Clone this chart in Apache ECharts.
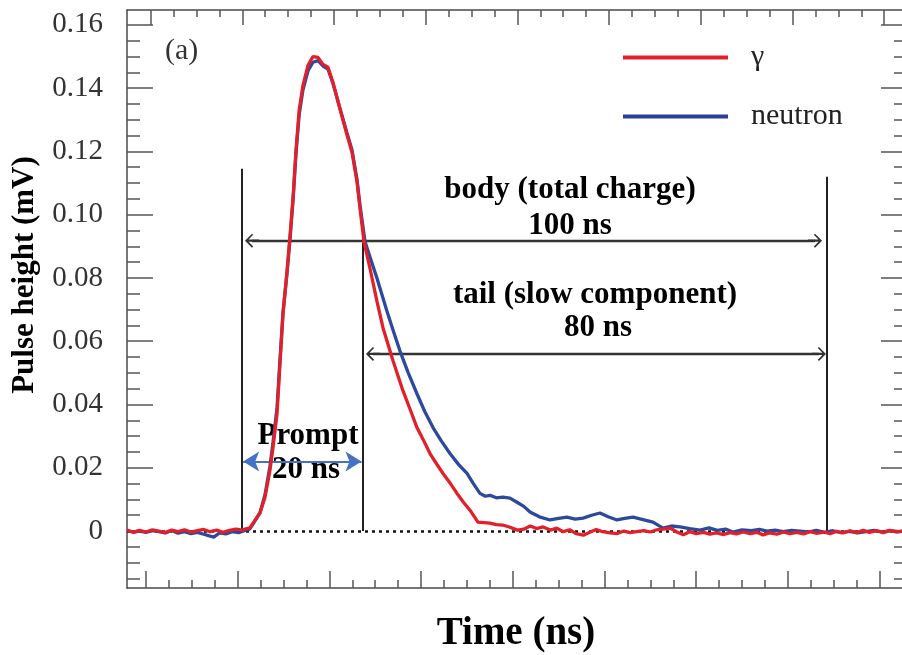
<!DOCTYPE html>
<html>
<head>
<meta charset="utf-8">
<script src="https://cdn.jsdelivr.net/npm/echarts@6/dist/echarts.min.js"></script>
<style>html,body{margin:0;padding:0;background:#fff}#c{width:902px;height:655px}</style>
</head>
<body>
<div id="c"></div>
<script>
// ---- data (x in axis units: one major tick = 10 units) ----
const gammaX = [-2.07,-1.4,-0.7,0,0.7,1.4,2.1,2.8,3.5,4.2,4.9,5.6,6.3,7.0,7.7,8.4,9.1,9.8,10.5,11.0,11.34,
  11.67,12.43,12.98,13.52,13.85,14.29,14.61,14.94,15.38,15.70,16.05,16.35,16.7,17.12,17.67,18.21,18.76,19.30,19.85,20.39,21.16,21.92,22.46,23.01,23.34,23.77,
  24.43,25.19,25.85,26.94,28.03,28.8,29.55,30.3,30.97,31.7,32.39,33.2,33.92,34.6,35.33,36.20,
  37.5,38.2,38.9,39.7,40.5,41.2,41.9,42.6,43.3,44.1,44.8,45.5,46.2,46.9,47.7,48.4,49.1,49.8,50.6,51.4,52.1,52.8,53.5,54.3,55.0,55.7,56.4,57.2,57.9,58.6,59.3,60.0,60.8,61.5,62.2,63.0,63.7,64.4,65.1,65.9,66.6,67.3,68.0,68.8,69.5,70.2,71.0,71.7,72.4,73.1,73.9,74.6,75.3,76.0,76.8,77.5,78.2,78.9,79.7,80.4,81.1,81.8,82.77];
const gammaY = [0.0003,-0.0004,0.0002,-0.0003,0.0004,0.0000,-0.0005,0.0003,-0.0002,0.0004,-0.0003,0.0001,0.0005,-0.0002,0.0003,-0.0004,0.0002,0.0006,0.0003,0.0008,0.0010,
  0.0025,0.0057,0.0107,0.0192,0.0264,0.0371,0.0528,0.0686,0.0821,0.0931,0.1060,0.1200,0.1330,0.1409,0.1472,0.1500,0.1497,0.1475,0.1466,0.1418,0.1334,0.1252,0.1198,0.1104,0.1019,0.0915,
  0.0830,0.0726,0.0642,0.0538,0.0443,0.0385,0.0327,0.0285,0.0245,0.0212,0.0182,0.0150,0.0119,0.0092,0.0066,0.0028,
  0.0025,0.0020,0.0019,0.0012,0.0003,0.0006,0.0016,0.0008,0.0013,0.0003,0.0009,-0.0002,0.0004,-0.0008,-0.0013,-0.0004,0.0005,-0.0002,-0.0006,-0.0008,0.0000,-0.0005,-0.0002,0.0001,-0.0003,0.0004,0.0006,0.0009,-0.0003,-0.0012,-0.0002,-0.0008,-0.0004,-0.0010,-0.0006,-0.0011,-0.0005,-0.0009,-0.0003,-0.0008,-0.0004,-0.0012,-0.0006,-0.0010,-0.0003,-0.0008,-0.0004,-0.0009,-0.0002,-0.0007,-0.0003,-0.0008,-0.0001,-0.0006,0.0001,-0.0005,0.0002,-0.0004,0.0001,-0.0005,0.0002,-0.0003,0.0001];

const neutronX = [-2.07,-1.4,-0.7,0,0.7,1.4,2.1,2.8,3.5,4.2,4.9,5.6,6.3,7.0,7.4,8.0,8.7,9.4,10.1,10.8,11.3,
  11.67,12.43,12.98,13.52,13.85,14.29,14.61,14.94,15.38,15.70,16.05,16.35,16.7,17.12,17.67,18.21,18.76,19.30,19.85,20.39,21.16,21.92,22.46,23.01,23.34,23.88,
  24.5,25.19,26.28,27.0,27.70,28.6,29.55,30.4,31.30,32.2,33.15,34.1,35.01,35.7,36.42,37.0,37.51,38.2,38.93,39.69,40.46,41.2,41.88,42.9,44.06,45.0,45.91,46.8,47.66,48.6,49.51,50.4,51.36,52.2,53.11,54.2,55.29,56.38,57.3,58.23,59.3,60.41,61.4,62.3,63.2,64.01,65.0,66.0,66.9,67.72,68.6,69.5,70.4,71.32,72.2,73.1,74.0,74.9,75.8,76.7,77.6,78.5,79.4,80.3,81.2,82.1,82.77];
const neutronY = [0.0001,-0.0003,0.0000,-0.0004,0.0001,-0.0002,-0.0006,0.0002,-0.0007,-0.0002,-0.0008,-0.0004,-0.0010,-0.0016,-0.0019,-0.0006,-0.0009,-0.0002,-0.0005,0.0002,0.0006,
  0.0022,0.0058,0.0115,0.0205,0.0280,0.0390,0.0540,0.0690,0.0815,0.0920,0.1050,0.1190,0.1315,0.1395,0.1455,0.1482,0.1487,0.1470,0.1460,0.1415,0.1335,0.1258,0.1205,0.1112,0.1030,0.0915,
  0.0860,0.0799,0.0695,0.0630,0.0569,0.0500,0.0434,0.0378,0.0327,0.0285,0.0245,0.0210,0.0182,0.0150,0.0119,0.0110,0.0113,0.0105,0.0107,0.0104,0.0091,0.0078,0.0060,0.0045,0.0035,0.0040,0.0044,0.0038,0.0041,0.0050,0.0057,0.0045,0.0035,0.0040,0.0044,0.0036,0.0028,0.0009,0.0016,0.0013,0.0008,0.0003,0.0010,0.0002,0.0006,-0.0003,0.0004,0.0001,0.0005,0.0000,0.0003,-0.0002,0.0002,0.0000,-0.0003,0.0002,-0.0004,0.0001,-0.0005,-0.0001,-0.0006,-0.0002,0.0002,-0.0003,0.0001,-0.0002,0.0000];

// annotation positions (axis units)
const gateX = [10.47, 23.66, 74.26];        // prompt start, tail start, gate end
const gateTop = [0.1145, 0.0912, 0.112];
const bodyArrow = {x0: 11.56, x1: 72.96, y: 0.0918};
const tailArrow = {x0: 24.75, x1: 73.39, y: 0.056};
const promptArrow = {x0: 10.6, x1: 23.5, y: 0.022};

// axis ticks
const xMajorBottom = [0,10,20,30,40,50,60,70,80];
const xMinorBottom = [2.5,5,7.5,12.5,15,17.5,22.5,25,27.5,32.5,35,37.5,42.5,45,47.5,52.5,55,57.5,62.5,65,67.5,72.5,75,77.5,82.5];
const xMajorTop = [0.5,10.5,20.5,30.5,40.5,50.5,60.5,70.5,80.5];
const xMinorTop = [3,5.5,8,13,15.5,18,23,25.5,28,33,35.5,38,43,45.5,48,53,55.5,58,63,65.5,68,73,75.5,78];
const yMajor = [0,0.02,0.04,0.06,0.08,0.10,0.12,0.14,0.16];
const yMinor = [-0.015,-0.01,-0.005,0.005,0.01,0.015,0.025,0.03,0.035,0.045,0.05,0.055,0.065,0.07,0.075,0.085,0.09,0.095,0.105,0.11,0.115,0.125,0.13,0.135,0.145,0.15,0.155];
const xMin = -2.07, xMax = 82.77, yMin = -0.018, yMax = 0.1647;

const FONT = 'Liberation Serif';
const frameColor = '#4a4a4a';

function pairs(xs, ys){ return xs.map((x,i)=>[x, ys[i]]); }

function xAx(pos, vals, len, showLine, name){
  return {type:'value', position:pos, min:xMin, max:xMax, gridIndex:0,
    axisLine:{show:showLine, onZero:false, lineStyle:{color:frameColor, width:1.5}},
    axisTick:{show:true, inside:true, length:len, customValues:vals, lineStyle:{color:'#555', width:1.5}},
    axisLabel:{show:false}, splitLine:{show:false},
    name: name||'', nameLocation:'middle', nameGap:26,
    nameTextStyle:{fontFamily:FONT, fontSize:39, fontWeight:'bold', color:'#000'}};
}
function yAx(pos, vals, len, showLine, labels){
  return {type:'value', position:pos, min:yMin, max:yMax, gridIndex:0,
    axisLine:{show:showLine, onZero:false, lineStyle:{color:frameColor, width:1.5}},
    axisTick:{show:true, inside:true, length:len, customValues:vals, lineStyle:{color:'#555', width:1.5}},
    axisLabel: labels ? {show:true, customValues:yMajor, margin:24, fontFamily:FONT, fontSize:29, color:'#333',
        formatter:v=> Math.abs(v)<1e-9 ? '0' : v.toFixed(2)} : {show:false},
    splitLine:{show:false}};
}

const chevron = 'path://M0,0 L7,7 L5.8,8.2 L1.2,3.6 L1.2,14 L-1.2,14 L-1.2,3.6 L-5.8,8.2 L-7,7 Z';

const chart = echarts.init(document.getElementById('c'), null, {renderer:'canvas'});
chart.setOption({
  animation:false,
  backgroundColor:'#fff',
  grid:{left:127, top:10, width:778, height:578, containLabel:false, outerBoundsMode:'none'},
  xAxis:[
    xAx('bottom', xMajorBottom, 17, true, 'Time (ns)'),
    xAx('top', xMajorTop, 15, true),
    xAx('bottom', xMinorBottom, 8, false),
    xAx('top', xMinorTop, 7, false)
  ],
  yAxis:[
    yAx('left', yMajor, 26, true, true),
    yAx('right', yMajor, 24, true, false),
    yAx('left', yMinor, 13, false, false),
    yAx('right', yMinor, 11, false, false)
  ],
  legend:{
    orient:'vertical', left:618, top:37, itemWidth:105, itemHeight:4, itemGap:28,
    icon:'rect', selectedMode:false,
    textStyle:{fontFamily:FONT, fontSize:30, color:'#222', lineHeight:31, padding:[0,0,0,18]},
    data:['γ','neutron']
  },
  series:[
    {
      name:'neutron', type:'line', xAxisIndex:0, yAxisIndex:0, symbol:'none', silent:true,
      data: pairs(neutronX, neutronY),
      lineStyle:{color:'#2b4a9e', width:3.3}, itemStyle:{color:'#2b3f96'}, z:3,
      markLine:{
        silent:true, animation:false, symbol:['none','none'], label:{show:false}, z:2,
        data:[
          [{coord:[xMin,0], lineStyle:{color:'#111', width:2.5, type:[3,4]}}, {coord:[xMax,0]}],
          [{coord:[gateX[0],0], lineStyle:{color:'#222', width:2, type:'solid'}}, {coord:[gateX[0],gateTop[0]]}],
          [{coord:[gateX[1],0], lineStyle:{color:'#222', width:2, type:'solid'}}, {coord:[gateX[1],gateTop[1]]}],
          [{coord:[gateX[2],0], lineStyle:{color:'#222', width:2, type:'solid'}}, {coord:[gateX[2],gateTop[2]]}],
          [{coord:[bodyArrow.x0,bodyArrow.y], symbol:chevron, symbolSize:[14,14], lineStyle:{color:'#333', width:2.4, type:'solid'}, itemStyle:{color:'#333'}},
           {coord:[bodyArrow.x1,bodyArrow.y], symbol:chevron, symbolSize:[14,14]}],
          [{coord:[tailArrow.x0,tailArrow.y], symbol:chevron, symbolSize:[14,14], lineStyle:{color:'#333', width:2.4, type:'solid'}, itemStyle:{color:'#333'}},
           {coord:[tailArrow.x1,tailArrow.y], symbol:chevron, symbolSize:[14,14]}],
          [{coord:[promptArrow.x0,promptArrow.y], symbol:'arrow', symbolSize:[15,16], lineStyle:{color:'#4472c4', width:2, type:'solid'}, itemStyle:{color:'#4472c4'}},
           {coord:[promptArrow.x1,promptArrow.y], symbol:'arrow', symbolSize:[15,16]}]
        ]
      }
    },
    {
      name:'γ', type:'line', xAxisIndex:0, yAxisIndex:0, symbol:'none', silent:true,
      data: pairs(gammaX, gammaY),
      lineStyle:{color:'#e3202a', width:3.3}, itemStyle:{color:'#e3202a'}, z:4
    }
  ],
  graphic:[
    {type:'text', left:165, top:36, style:{text:'(a)', font:'30px "Liberation Serif"', fill:'#333'}},
    {type:'text', x:25, y:275, rotation:Math.PI/2, style:{text:'Pulse height (mV)', font:'bold 31px "Liberation Serif"', fill:'#000', align:'center', verticalAlign:'middle'}},
    {type:'text', x:570, y:190, style:{text:'body (total charge)', font:'bold 31px "Liberation Serif"', fill:'#000', align:'center', verticalAlign:'middle'}},
    {type:'text', x:570, y:226, style:{text:'100 ns', font:'bold 31px "Liberation Serif"', fill:'#000', align:'center', verticalAlign:'middle'}},
    {type:'text', x:595, y:295, style:{text:'tail (slow component)', font:'bold 31px "Liberation Serif"', fill:'#000', align:'center', verticalAlign:'middle'}},
    {type:'text', x:598, y:328, style:{text:'80 ns', font:'bold 31px "Liberation Serif"', fill:'#000', align:'center', verticalAlign:'middle'}},
    {type:'text', x:308, y:436, style:{text:'Prompt', font:'bold 31px "Liberation Serif"', fill:'#000', align:'center', verticalAlign:'middle'}},
    {type:'text', x:306, y:470, style:{text:'20 ns', font:'bold 31px "Liberation Serif"', fill:'#000', align:'center', verticalAlign:'middle'}}
  ]
});
</script>
</body>
</html>
